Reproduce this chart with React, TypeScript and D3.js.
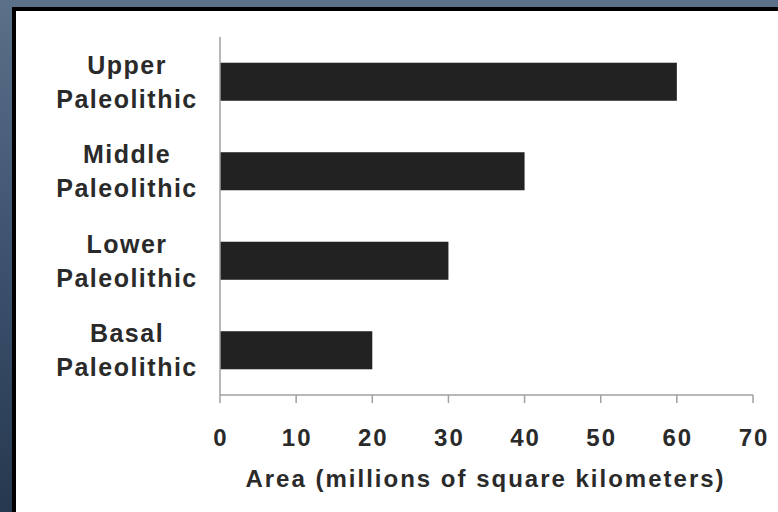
import React from "react";
import * as d3 from "d3";

const categories: string[][] = [
  ["Upper", "Paleolithic"],
  ["Middle", "Paleolithic"],
  ["Lower", "Paleolithic"],
  ["Basal", "Paleolithic"],
];
const categoryKeys = ["Upper", "Middle", "Lower", "Basal"];
const values = [60, 40, 30, 20];
const xTicks = [0, 10, 20, 30, 40, 50, 60, 70];
const xTitle = "Area (millions of square kilometers)";

const W = 778;
const H = 512;

export default function App() {
  const x = d3.scaleLinear().domain([0, 70]).range([220, 753]);
  const y = d3
    .scaleBand<string>()
    .domain(categoryKeys)
    .range([37, 395])
    .paddingInner(0.575)
    .paddingOuter(0.2875);

  const font = "'Liberation Sans', Arial, Helvetica, sans-serif";
  const textColor = "#2a2a2a";

  return (
    <svg
      width={W}
      height={H}
      style={{ position: "fixed", left: 0, top: 0, display: "block" }}
    >
      <defs>
        <linearGradient id="bg" x1="0" y1="0" x2="0" y2="1">
          <stop offset="0" stopColor="#5b7189" />
          <stop offset="0.45" stopColor="#3f5572" />
          <stop offset="1" stopColor="#26384f" />
        </linearGradient>
      </defs>
      <rect x={0} y={0} width={W} height={H} fill="url(#bg)" />
      <rect x={12} y={7} width={W - 12} height={H - 7} fill="#000" />
      <rect x={16} y={11} width={W - 16} height={H - 11} fill="#fff" />

      {/* bars */}
      {categoryKeys.map((k, i) => (
        <rect
          key={k}
          x={x(0)}
          y={y(k)}
          width={x(values[i]) - x(0)}
          height={y.bandwidth()}
          fill="#222"
        />
      ))}

      {/* y axis line */}
      <line x1={x(0)} x2={x(0)} y1={37} y2={395} stroke="#a0a0a0" strokeWidth={1.5} />
      {/* x axis line */}
      <line x1={x(0)} x2={x(70)} y1={395} y2={395} stroke="#a0a0a0" strokeWidth={1.5} />
      {xTicks.map((t) => (
        <g key={t}>
          <line x1={x(t)} x2={x(t)} y1={395} y2={403} stroke="#a0a0a0" strokeWidth={1.5} />
          <text
            x={x(t) + 1}
            y={446}
            textAnchor="middle"
            fontFamily={font}
            fontWeight="bold"
            fontSize={24}
            letterSpacing={2}
            fill={textColor}
          >
            {t}
          </text>
        </g>
      ))}

      {/* category labels */}
      {categoryKeys.map((k, i) => {
        const cy = (y(k) as number) + y.bandwidth() / 2;
        return (
          <text
            key={k}
            textAnchor="middle"
            fontFamily={font}
            fontWeight="bold"
            fontSize={25}
            letterSpacing={1.5}
            fill={textColor}
          >
            <tspan x={127} y={cy - 8}>
              {categories[i][0]}
            </tspan>
            <tspan x={127} y={cy + 26}>
              {categories[i][1]}
            </tspan>
          </text>
        );
      })}

      {/* x title */}
      <text
        x={485.5}
        y={487}
        textAnchor="middle"
        fontFamily={font}
        fontWeight="bold"
        fontSize={24}
        letterSpacing={2}
        fill={textColor}
      >
        {xTitle}
      </text>
    </svg>
  );
}
